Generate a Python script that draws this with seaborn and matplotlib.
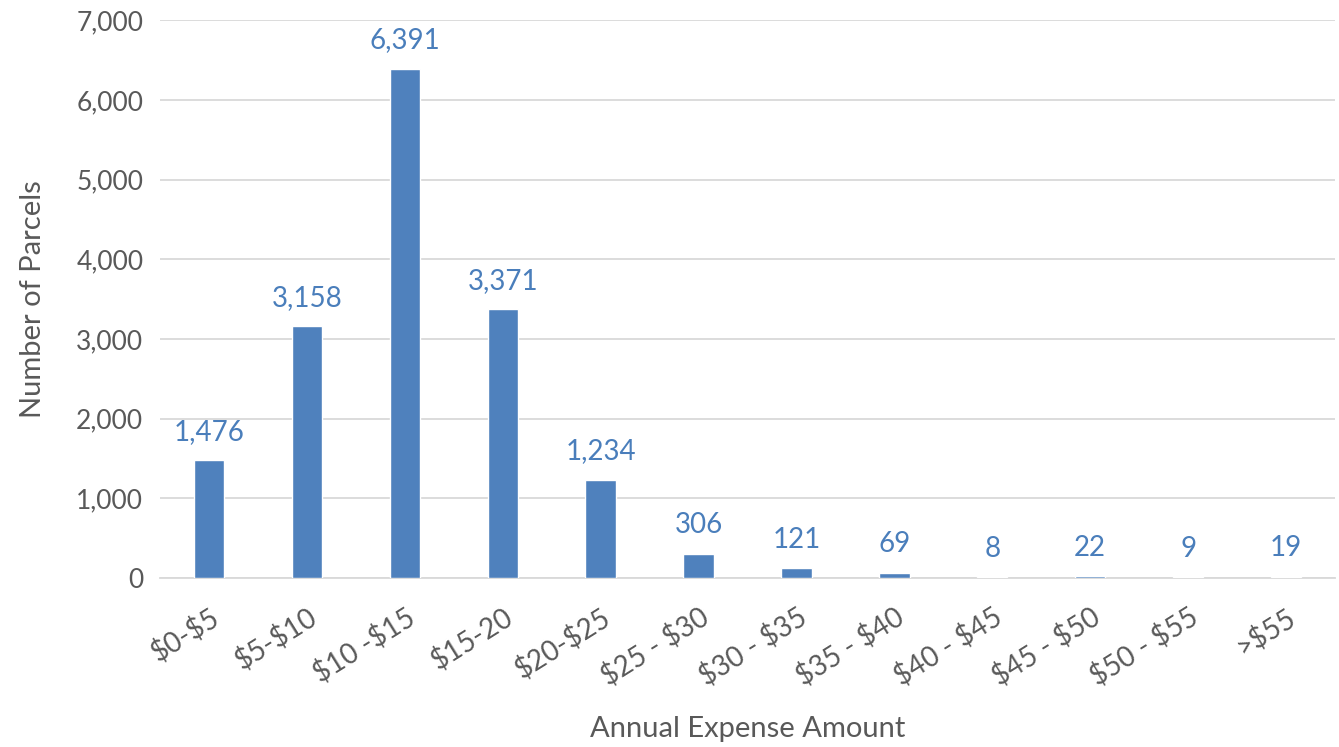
import matplotlib
matplotlib.use("Agg")
import matplotlib.pyplot as plt
import seaborn as sns
import pandas as pd

# chart data
categories = ["$0-$5", "$5-$10", "$10 -$15", "$15-20", "$20-$25", "$25 - $30",
              "$30 - $35", "$35 - $40", "$40 - $45", "$45 - $50", "$50 - $55", ">$55"]
parcels = [1476, 3158, 6391, 3371, 1234, 306, 121, 69, 8, 22, 9, 19]
yticks = [0, 1000, 2000, 3000, 4000, 5000, 6000, 7000]

sns.set_style("white")
plt.rcParams['font.family'] = ['Lato', 'DejaVu Sans']
plt.rcParams['text.parse_math'] = False

bar_color = "#4f81bd"
text_color = "#595959"

df = pd.DataFrame({"range": categories, "count": parcels})

fig = plt.figure(figsize=(13.39, 7.47), dpi=100)
ax = fig.add_axes([0.1195, 0.2262, 0.8775, 0.7468])

sns.barplot(x="range", y="count", data=df, color=bar_color, width=0.31,
            saturation=1, ax=ax, zorder=3)

# value labels
for i, v in enumerate(parcels):
    ax.annotate(f"{v:,}", (i, v), xytext=(0, 11), textcoords="offset points",
                ha="center", va="bottom", fontsize=20, color="#4a7ebb")

ax.set_ylim(0, 7000)
ax.set_xlim(-0.5, len(categories) - 0.5)
ax.set_yticks(yticks)
ax.set_yticklabels([f"{t:,}" for t in yticks], fontsize=19, color=text_color)
ax.set_xticks(range(len(categories)))
ax.set_xticklabels(categories, rotation=32, ha="right", rotation_mode="anchor",
                   fontsize=20, color=text_color)
ax.tick_params(axis="y", length=0, pad=12)
ax.tick_params(axis="x", length=0, pad=18)
for lbl in ax.get_xticklabels():
    lbl.set_x(lbl.get_position()[0])

ax.yaxis.grid(True, color="#d9d9d9", linewidth=1.3, zorder=0)
for s in ["top", "right", "left"]:
    ax.spines[s].set_visible(False)
ax.spines["bottom"].set_color("#d9d9d9")
ax.spines["bottom"].set_linewidth(1.3)

ax.set_xlabel("Annual Expense Amount", fontsize=21, color=text_color, labelpad=18)
ax.set_ylabel("Number of Parcels", fontsize=21, color=text_color, labelpad=22)

plt.savefig("out.png", dpi=100)
